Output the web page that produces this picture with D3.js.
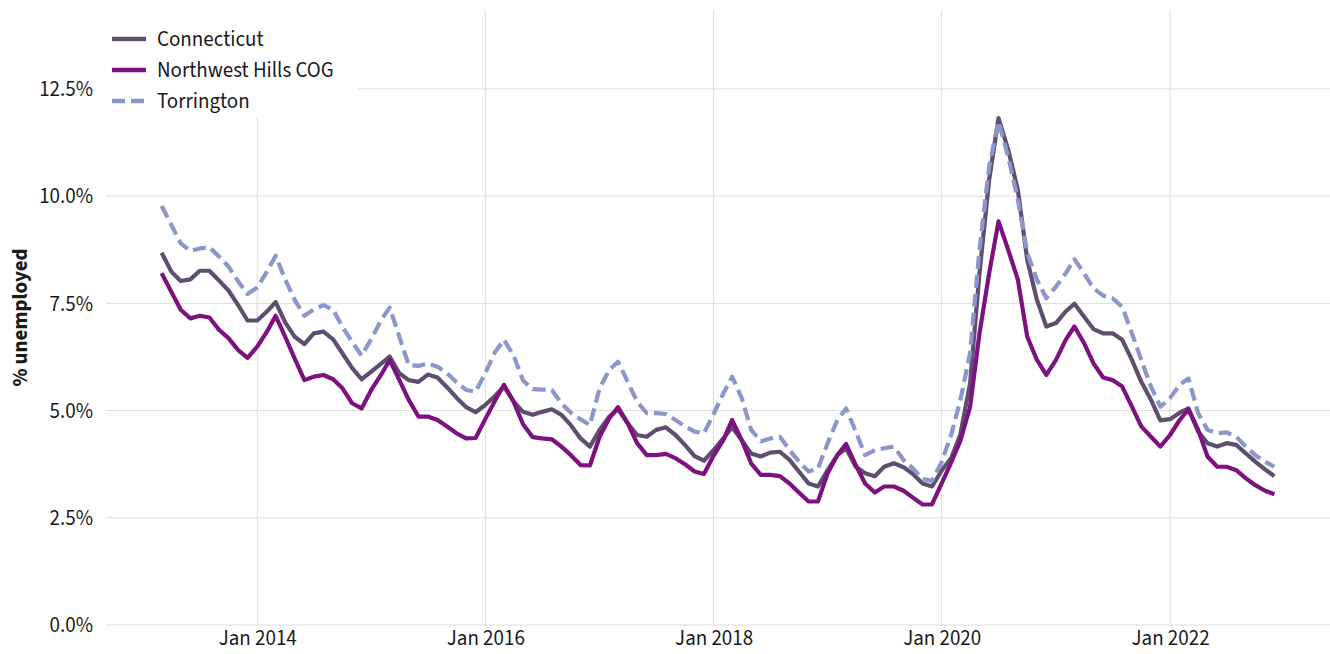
<!DOCTYPE html>
<html lang="en">
<head>
  <meta charset="UTF-8">
  <title>Unemployment rate</title>
  <script src="https://d3js.org/d3.v7.min.js"></script>
  <style type="text/css">
    body { margin: 0; background: white; }
    svg text { font-family: "Source Sans Pro", "Source Sans 3", Lato, sans-serif; fill: #1a1a1a; }
    .grid line { stroke: #dcdcdc; stroke-width: 1; }
    .axis text { font-size: 21px; }
    .axis path, .axis line { display: none; }
  </style>
</head>
<body>
  <svg width="1330" height="654"></svg>
  <script type="text/javascript">
    // monthly series, Mar 2013 - Dec 2022
    let firstMonth = new Date(2013, 2, 1);
    let lastMonth = new Date(2022, 11, 1);

    let connecticut = [
      8.68, 8.24, 8.02, 8.06, 8.26, 8.26, 8.03, 7.80, 7.46, 7.10,
      7.10, 7.31, 7.53, 7.05, 6.72, 6.55, 6.80, 6.84, 6.66, 6.33,
      5.99, 5.73, 5.91, 6.09, 6.26, 5.87, 5.71, 5.67, 5.84, 5.77,
      5.54, 5.30, 5.08, 4.96, 5.13, 5.34, 5.56, 5.21, 4.97, 4.90,
      4.97, 5.03, 4.90, 4.66, 4.35, 4.16, 4.55, 4.86, 5.03, 4.70,
      4.43, 4.39, 4.55, 4.61, 4.43, 4.20, 3.94, 3.83, 4.08, 4.35,
      4.61, 4.31, 4.00, 3.93, 4.02, 4.04, 3.85, 3.58, 3.30, 3.23,
      3.61, 3.96, 4.12, 3.69, 3.54, 3.47, 3.69, 3.77, 3.68, 3.52,
      3.30, 3.23, 3.60, 3.90, 4.45, 5.64, 8.20, 10.38, 11.82, 11.08,
      10.14, 8.51, 7.58, 6.96, 7.04, 7.31, 7.49, 7.19, 6.90, 6.80,
      6.80, 6.65, 6.18, 5.67, 5.25, 4.77, 4.80, 4.95, 5.05, 4.51,
      4.24, 4.16, 4.24, 4.20, 4.00, 3.81, 3.63, 3.47
    ];
    let northwestHills = [
      8.20, 7.77, 7.35, 7.15, 7.21, 7.17, 6.88, 6.69, 6.41, 6.23,
      6.49, 6.84, 7.21, 6.71, 6.21, 5.71, 5.79, 5.83, 5.73, 5.52,
      5.17, 5.05, 5.48, 5.83, 6.18, 5.71, 5.25, 4.86, 4.86, 4.78,
      4.63, 4.47, 4.35, 4.36, 4.80, 5.23, 5.60, 5.20, 4.68, 4.38,
      4.35, 4.33, 4.16, 3.96, 3.73, 3.72, 4.39, 4.82, 5.08, 4.70,
      4.24, 3.96, 3.96, 3.99, 3.89, 3.75, 3.58, 3.52, 3.95, 4.31,
      4.78, 4.31, 3.77, 3.50, 3.50, 3.47, 3.30, 3.09, 2.88, 2.88,
      3.54, 3.96, 4.22, 3.73, 3.30, 3.09, 3.23, 3.23, 3.13, 2.97,
      2.81, 2.81, 3.30, 3.80, 4.30, 5.09, 6.80, 8.20, 9.41, 8.75,
      8.05, 6.72, 6.18, 5.83, 6.18, 6.65, 6.96, 6.57, 6.10, 5.77,
      5.71, 5.56, 5.09, 4.63, 4.39, 4.16, 4.43, 4.78, 5.03, 4.55,
      3.93, 3.69, 3.69, 3.61, 3.42, 3.26, 3.13, 3.05
    ];
    let torrington = [
      9.77, 9.33, 8.90, 8.72, 8.78, 8.81, 8.59, 8.36, 8.01, 7.72,
      7.87, 8.24, 8.61, 8.05, 7.58, 7.21, 7.36, 7.46, 7.35, 6.95,
      6.60, 6.28, 6.67, 7.10, 7.40, 6.72, 6.06, 6.04, 6.10, 6.02,
      5.87, 5.66, 5.48, 5.44, 5.87, 6.36, 6.65, 6.28, 5.70, 5.50,
      5.49, 5.48, 5.17, 4.95, 4.80, 4.66, 5.52, 5.95, 6.14, 5.67,
      5.21, 4.94, 4.94, 4.92, 4.78, 4.63, 4.51, 4.47, 4.92, 5.40,
      5.79, 5.29, 4.55, 4.28, 4.35, 4.39, 4.08, 3.81, 3.58, 3.65,
      4.24, 4.78, 5.05, 4.51, 3.96, 4.08, 4.12, 4.16, 3.85, 3.65,
      3.40, 3.36, 3.80, 4.45, 5.25, 6.34, 8.75, 10.69, 11.74, 10.92,
      9.91, 8.67, 8.05, 7.62, 7.89, 8.20, 8.53, 8.20, 7.85, 7.68,
      7.62, 7.42, 6.80, 6.18, 5.56, 5.09, 5.29, 5.60, 5.75, 4.94,
      4.55, 4.47, 4.49, 4.39, 4.16, 3.96, 3.81, 3.69
    ];

    let seriesNames = ["Connecticut", "Northwest Hills COG", "Torrington"];
    let seriesColors = ["#5e4f6e", "#7d1180", "#8b97cb"];
    let seriesDash = [null, null, "13,6"];
    let yTicks = [0, 2.5, 5, 7.5, 10, 12.5];

    let svg = d3.select("svg"),
      margin = { top: 10, right: 0, bottom: 29, left: 106 },
      width = svg.attr("width") - margin.left - margin.right,
      height = svg.attr("height") - margin.top - margin.bottom,
      g = svg.append("g").attr("transform", "translate(" + margin.left + "," + margin.top + ")");

    let months = d3.timeMonth.range(firstMonth, d3.timeMonth.offset(lastMonth, 1));
    let series = [connecticut, northwestHills, torrington].map((vals, k) => ({
      name: seriesNames[k],
      color: seriesColors[k],
      dash: seriesDash[k],
      values: vals.map((v, i) => ({ date: months[i], value: v }))
    }));

    // 5% padding either side, like the original
    let span = lastMonth - firstMonth;
    let x = d3.scaleTime()
      .domain([new Date(+firstMonth - span * 0.05), new Date(+lastMonth + span * 0.05)])
      .range([0, width]);
    let y = d3.scaleLinear()
      .domain([0, 14.34])
      .range([height, 0]);

    let xTicks = d3.timeYear.every(2).range(new Date(2014, 0, 1), new Date(2023, 0, 1));

    // grid
    let grid = g.append("g").attr("class", "grid");
    grid.selectAll("line.h")
      .data(yTicks)
      .enter()
      .append("line")
      .attr("class", "h")
      .attr("x1", 0)
      .attr("x2", width)
      .attr("y1", d => y(d))
      .attr("y2", d => y(d));
    grid.selectAll("line.v")
      .data(xTicks)
      .enter()
      .append("line")
      .attr("class", "v")
      .attr("x1", d => x(d))
      .attr("x2", d => x(d))
      .attr("y1", 0)
      .attr("y2", height);

    // axes
    g.append("g")
      .attr("class", "axis axis_x")
      .attr("transform", "translate(0," + height + ")")
      .call(d3.axisBottom(x).tickValues(xTicks).tickFormat(d3.timeFormat("%b %Y")).tickSize(0).tickPadding(5))
      .selectAll("text")
      .attr("dy", "0.72em");

    g.append("g")
      .attr("class", "axis axis_y")
      .call(d3.axisLeft(y).tickValues(yTicks).tickFormat(d => d3.format(".1f")(d) + "%").tickSize(0).tickPadding(13));

    svg.append("text")
      .attr("transform", "rotate(-90)")
      .attr("x", -(margin.top + height / 2))
      .attr("y", 20)
      .attr("dy", "0.35em")
      .style("text-anchor", "middle")
      .style("font-size", "21px")
      .style("font-weight", "bold")
      .text("% unemployed");

    // lines
    let line = d3.line()
      .x(d => x(d.date))
      .y(d => y(d.value));

    g.append("g")
      .selectAll("path")
      .data(series)
      .enter()
      .append("path")
      .attr("d", d => line(d.values))
      .attr("fill", "none")
      .attr("stroke", d => d.color)
      .attr("stroke-width", 4.2)
      .attr("stroke-linejoin", "round")
      .attr("stroke-dasharray", d => d.dash);

    // legend (white box over the grid, top-left)
    let legend = svg.append("g").attr("class", "legend");
    legend.append("rect")
      .attr("x", 100)
      .attr("y", 10)
      .attr("width", 258)
      .attr("height", 108)
      .attr("fill", "white");

    let rows = legend.selectAll("g.row")
      .data(series)
      .enter()
      .append("g")
      .attr("class", "row")
      .attr("transform", (d, i) => "translate(112," + (39 + i * 31) + ")");
    rows.append("line")
      .attr("x1", 0)
      .attr("x2", 34)
      .attr("stroke", d => d.color)
      .attr("stroke-width", 4.4)
      .attr("stroke-dasharray", d => d.dash);
    rows.append("text")
      .attr("x", 45)
      .attr("dy", "0.35em")
      .style("font-size", "21px")
      .text(d => d.name);
  </script>
</body>
</html>
